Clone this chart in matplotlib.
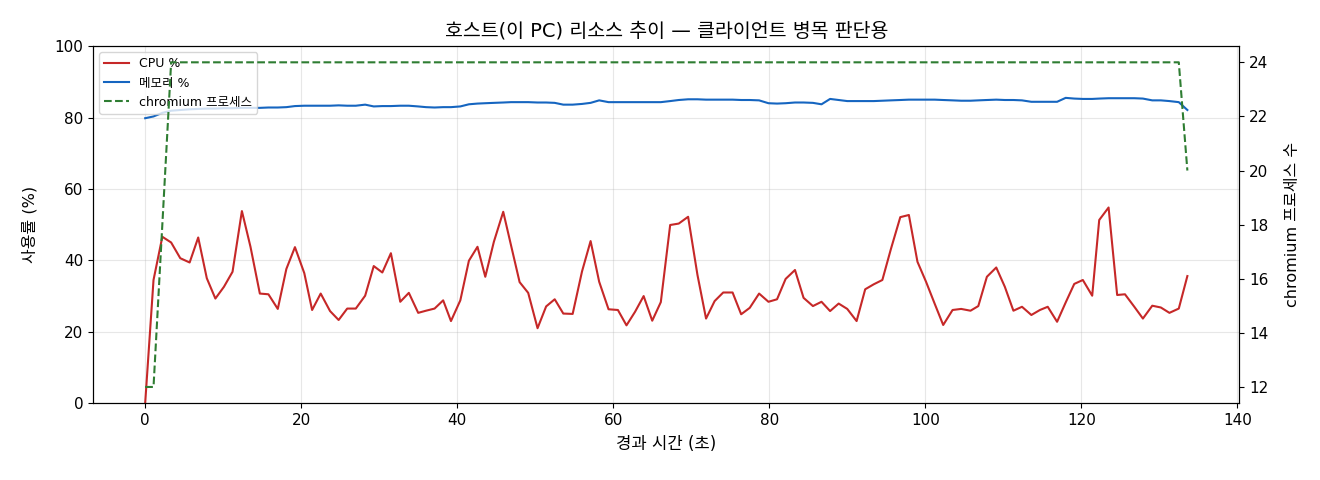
import matplotlib
matplotlib.use("Agg")
import matplotlib.pyplot as plt

plt.rcParams['font.family'] = ['DejaVu Sans', 'Noto Sans CJK KR']
plt.rcParams['axes.unicode_minus'] = False

elapsed_s = [
    0, 1.07, 2.2, 3.33, 4.5, 5.7, 6.8, 7.9, 9.0, 10.1,
    11.2, 12.4, 13.5, 14.7, 15.8, 17.0, 18.1, 19.2, 20.4, 21.4,
    22.5, 23.7, 24.8, 25.9, 27.0, 28.2, 29.3, 30.4, 31.5, 32.7,
    33.8, 35.0, 36.0, 37.1, 38.2, 39.2, 40.4, 41.5, 42.6, 43.6,
    44.7, 45.9, 46.9, 48.0, 49.1, 50.3, 51.4, 52.5, 53.6, 54.8,
    56.0, 57.1, 58.2, 59.4, 60.6, 61.7, 62.8, 63.9, 65.0, 66.1,
    67.3, 68.4, 69.6, 70.8, 71.9, 73.0, 74.1, 75.3, 76.4, 77.5,
    78.7, 79.9, 81.0, 82.1, 83.3, 84.4, 85.6, 86.7, 87.8, 88.9,
    90.0, 91.2, 92.3, 93.4, 94.5, 95.6, 96.8, 97.9, 99.0, 100.1,
    101.2, 102.3, 103.5, 104.6, 105.8, 106.8, 107.9, 109.1, 110.2, 111.3,
    112.4, 113.6, 114.7, 115.7, 116.9, 118.0, 119.1, 120.2, 121.4, 122.3,
    123.5, 124.6, 125.6, 126.8, 127.9, 129.1, 130.2, 131.3, 132.5, 133.6,
]

cpu_pct = [
    0, 34.5, 46.6, 45.0, 40.6, 39.4, 46.4, 35.0, 29.3, 32.6,
    36.8, 53.8, 43.8, 30.7, 30.5, 26.4, 37.6, 43.7, 36.4, 26.1,
    30.7, 25.8, 23.3, 26.5, 26.5, 30.1, 38.4, 36.6, 42.0, 28.4,
    30.9, 25.3, 25.9, 26.5, 28.8, 23.0, 28.8, 39.9, 43.8, 35.4,
    45.2, 53.6, 44.2, 33.9, 30.9, 21.0, 27.1, 29.1, 25.1, 25.0,
    36.9, 45.4, 34.0, 26.3, 26.1, 21.8, 25.6, 30.0, 23.1, 28.3,
    49.9, 50.3, 52.2, 35.9, 23.7, 28.6, 31.0, 31.0, 24.9, 26.7,
    30.7, 28.4, 29.1, 34.8, 37.3, 29.5, 27.2, 28.4, 25.8, 27.9,
    26.4, 23.0, 31.9, 33.3, 34.5, 43.2, 52.1, 52.7, 39.6, 34.0,
    27.9, 21.9, 26.1, 26.4, 25.9, 27.2, 35.4, 38.0, 32.6, 25.9,
    27.0, 24.7, 26.1, 27.0, 22.8, 28.2, 33.4, 34.5, 30.1, 51.3,
    54.8, 30.3, 30.5, 27.0, 23.7, 27.3, 26.8, 25.3, 26.5, 35.6,
]

mem_pct = [
    79.8, 80.3, 81.3, 81.9, 82.1, 82.3, 82.4, 82.5, 82.5, 82.6,
    82.6, 82.7, 82.7, 82.7, 82.8, 82.8, 82.9, 83.2, 83.3, 83.3,
    83.3, 83.3, 83.4, 83.3, 83.3, 83.6, 83.1, 83.2, 83.2, 83.3,
    83.3, 83.1, 82.9, 82.8, 82.9, 82.9, 83.1, 83.7, 83.9, 84.0,
    84.1, 84.2, 84.3, 84.3, 84.3, 84.2, 84.2, 84.1, 83.6, 83.6,
    83.8, 84.1, 84.8, 84.3, 84.3, 84.3, 84.3, 84.3, 84.3, 84.3,
    84.6, 84.9, 85.1, 85.1, 85.0, 85.0, 85.0, 85.0, 84.9, 84.9,
    84.8, 84.0, 83.9, 84.0, 84.2, 84.2, 84.1, 83.7, 85.2, 84.9,
    84.6, 84.6, 84.6, 84.6, 84.7, 84.8, 84.9, 85.0, 85.0, 85.0,
    85.0, 84.9, 84.8, 84.7, 84.7, 84.8, 84.9, 85.0, 84.9, 84.9,
    84.8, 84.4, 84.4, 84.4, 84.4, 85.5, 85.3, 85.2, 85.2, 85.3,
    85.4, 85.4, 85.4, 85.4, 85.3, 84.8, 84.8, 84.6, 84.3, 82.1,
]

chromium_procs = [
    12, 12, 18, 24, 24, 24, 24, 24, 24, 24,
    24, 24, 24, 24, 24, 24, 24, 24, 24, 24,
    24, 24, 24, 24, 24, 24, 24, 24, 24, 24,
    24, 24, 24, 24, 24, 24, 24, 24, 24, 24,
    24, 24, 24, 24, 24, 24, 24, 24, 24, 24,
    24, 24, 24, 24, 24, 24, 24, 24, 24, 24,
    24, 24, 24, 24, 24, 24, 24, 24, 24, 24,
    24, 24, 24, 24, 24, 24, 24, 24, 24, 24,
    24, 24, 24, 24, 24, 24, 24, 24, 24, 24,
    24, 24, 24, 24, 24, 24, 24, 24, 24, 24,
    24, 24, 24, 24, 24, 24, 24, 24, 24, 24,
    24, 24, 24, 24, 24, 24, 24, 24, 24, 20,
]

fig = plt.figure(figsize=(13.2, 4.8), dpi=100)
ax1 = fig.add_axes([0.0705, 0.160, 0.8685, 0.744])
ax2 = ax1.twinx()

l1, = ax1.plot(elapsed_s, cpu_pct, color='#c62828', lw=1.5, label='CPU %')
l2, = ax1.plot(elapsed_s, mem_pct, color='#1565c0', lw=1.5, label='메모리 %')
l3, = ax2.plot(elapsed_s, chromium_procs, color='#2e7d32', lw=1.5,
               linestyle='--', label='chromium 프로세스')

ax1.set_ylim(0, 100)
ax1.grid(True, alpha=0.3)
ax1.set_xlabel('경과 시간 (초)', fontsize=12, labelpad=5)
ax1.set_ylabel('사용률 (%)', fontsize=11.5, labelpad=12)
ax2.set_ylabel('chromium 프로세스 수', fontsize=11.5, labelpad=12)
ax1.set_title('호스트(이 PC) 리소스 추이 — 클라이언트 병목 판단용', fontsize=14, pad=7)
ax1.tick_params(labelsize=11)
ax2.tick_params(labelsize=11)

ax1.legend(handles=[l1, l2, l3], loc='upper left', fontsize=9)

fig.savefig('out.png', dpi=100)
